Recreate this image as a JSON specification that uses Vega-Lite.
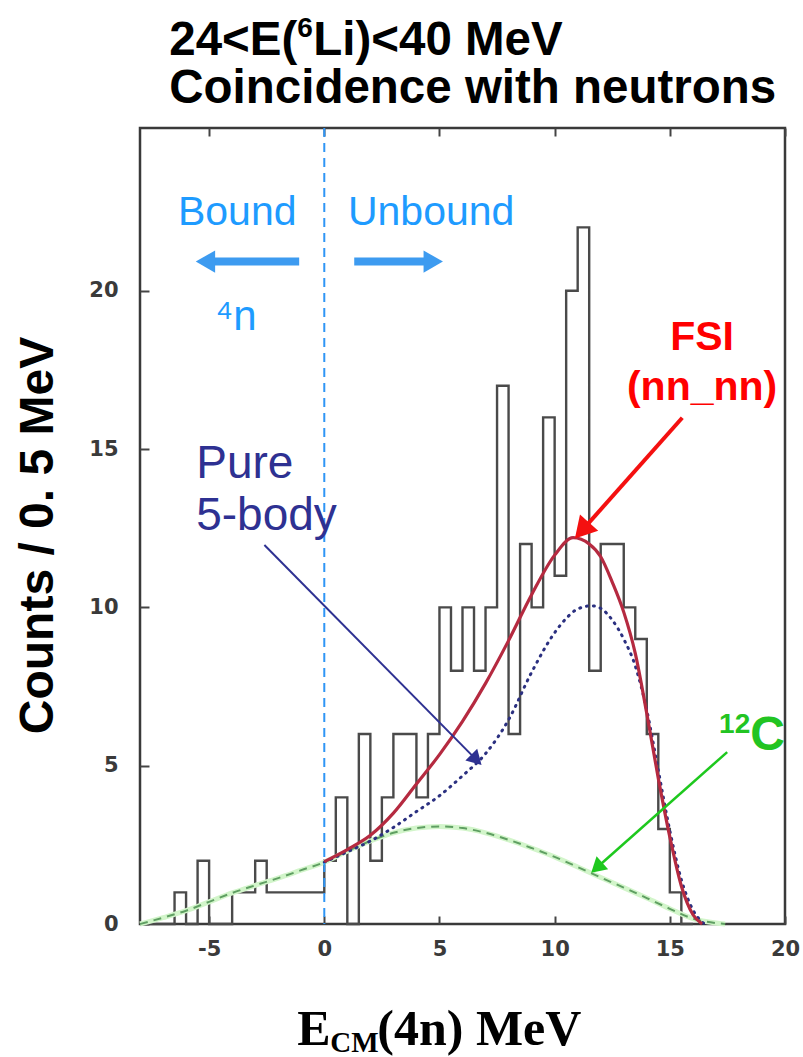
{
  "$schema": "https://vega.github.io/schema/vega-lite/v6.json",
  "width": 645,
  "height": 796,
  "autosize": {"type": "none"},
  "padding": {"left": 140, "top": 128, "right": 18, "bottom": 133},
  "background": "white",
  "config": {
    "view": {"stroke": "#3a3a3a", "strokeWidth": 2.5},
    "text": {"font": "Liberation Sans"}
  },
  "resolve": {"axis": {"x": "independent"}},
  "datasets": {
    "counts": [
      {"x": -8, "y": 0}, {"x": -7.5, "y": 0}, {"x": -7, "y": 0}, {"x": -6.5, "y": 1},
      {"x": -6, "y": 0}, {"x": -5.5, "y": 2}, {"x": -5, "y": 0}, {"x": -4.5, "y": 0},
      {"x": -4, "y": 1}, {"x": -3.5, "y": 1}, {"x": -3, "y": 2}, {"x": -2.5, "y": 1},
      {"x": -2, "y": 1}, {"x": -1.5, "y": 1}, {"x": -1, "y": 1}, {"x": -0.5, "y": 1},
      {"x": 0, "y": 2}, {"x": 0.5, "y": 4}, {"x": 1, "y": 0}, {"x": 1.5, "y": 6},
      {"x": 2, "y": 2}, {"x": 2.5, "y": 4}, {"x": 3, "y": 6}, {"x": 3.5, "y": 6},
      {"x": 4, "y": 4}, {"x": 4.5, "y": 6}, {"x": 5, "y": 10}, {"x": 5.5, "y": 8},
      {"x": 6, "y": 10}, {"x": 6.5, "y": 8}, {"x": 7, "y": 10}, {"x": 7.5, "y": 17},
      {"x": 8, "y": 6}, {"x": 8.5, "y": 12}, {"x": 9, "y": 10}, {"x": 9.5, "y": 16},
      {"x": 10, "y": 11}, {"x": 10.5, "y": 20}, {"x": 11, "y": 22}, {"x": 11.5, "y": 8},
      {"x": 12, "y": 12}, {"x": 12.5, "y": 12}, {"x": 13, "y": 10}, {"x": 13.5, "y": 9},
      {"x": 14, "y": 6}, {"x": 14.5, "y": 3}, {"x": 15, "y": 1}, {"x": 15.5, "y": 0},
      {"x": 16, "y": 0}
    ],
    "carbon": [
      {"x": -8, "y": 0}, {"x": -7, "y": 0.2}, {"x": -6, "y": 0.42}, {"x": -5, "y": 0.7},
      {"x": -4, "y": 0.98}, {"x": -3, "y": 1.22}, {"x": -2, "y": 1.45}, {"x": -1, "y": 1.7},
      {"x": 0, "y": 1.95}, {"x": 1, "y": 2.3}, {"x": 2, "y": 2.62}, {"x": 3, "y": 2.88},
      {"x": 4, "y": 3.03}, {"x": 5, "y": 3.08}, {"x": 6, "y": 3.03}, {"x": 7, "y": 2.88},
      {"x": 8, "y": 2.66}, {"x": 9, "y": 2.4}, {"x": 10, "y": 2.12}, {"x": 11, "y": 1.8},
      {"x": 12, "y": 1.47}, {"x": 13, "y": 1.15}, {"x": 14, "y": 0.82}, {"x": 15, "y": 0.48},
      {"x": 16, "y": 0.17}, {"x": 17, "y": 0.03}, {"x": 17.4, "y": 0}
    ],
    "fivebody": [
      {"x": 0, "y": 1.95}, {"x": 1, "y": 2.28}, {"x": 2, "y": 2.62}, {"x": 3, "y": 3.05},
      {"x": 4, "y": 3.55}, {"x": 5, "y": 4.05}, {"x": 6, "y": 4.68}, {"x": 7, "y": 5.38},
      {"x": 8, "y": 6.45}, {"x": 9, "y": 7.95}, {"x": 10, "y": 9.2}, {"x": 10.5, "y": 9.65},
      {"x": 11, "y": 9.95}, {"x": 11.6, "y": 10.05}, {"x": 12, "y": 9.97}, {"x": 12.5, "y": 9.6},
      {"x": 13, "y": 9.0}, {"x": 13.5, "y": 8.15}, {"x": 14, "y": 6.75}, {"x": 14.5, "y": 4.85},
      {"x": 15, "y": 2.95}, {"x": 15.5, "y": 1.4}, {"x": 16, "y": 0.45}, {"x": 16.5, "y": 0}
    ],
    "fsi": [
      {"x": 0, "y": 1.97}, {"x": 1, "y": 2.35}, {"x": 2, "y": 2.8}, {"x": 3, "y": 3.5},
      {"x": 4, "y": 4.42}, {"x": 5, "y": 5.35}, {"x": 6, "y": 6.4}, {"x": 7, "y": 7.6},
      {"x": 8, "y": 8.95}, {"x": 9, "y": 10.4}, {"x": 10, "y": 11.65}, {"x": 10.8, "y": 12.2},
      {"x": 11.5, "y": 12.0}, {"x": 12, "y": 11.6}, {"x": 12.5, "y": 10.8}, {"x": 13, "y": 9.85},
      {"x": 13.5, "y": 8.55}, {"x": 14, "y": 6.65}, {"x": 14.5, "y": 4.6}, {"x": 15, "y": 2.75},
      {"x": 15.5, "y": 1.2}, {"x": 16, "y": 0.3}, {"x": 16.4, "y": 0}
    ]
  },
  "layer": [
    {
      "data": {"name": "counts"},
      "mark": {"type": "line", "interpolate": "step-after", "color": "#4a4a4a", "strokeWidth": 2.4},
      "encoding": {
        "x": {
          "field": "x", "type": "quantitative",
          "scale": {"domain": [-8, 20], "nice": false, "zero": false},
          "axis": {
            "orient": "bottom", "values": [-5, 0, 5, 10, 15, 20], "labelExpr": "'' + datum.value",
            "title": null, "domain": false, "grid": false, "labelFlush": false,
            "tickSize": -8, "tickWidth": 2, "tickColor": "#444444",
            "labelPadding": 22, "labelFont": "DejaVu Sans", "labelFontWeight": "bold",
            "labelFontSize": 21, "labelColor": "#3a3a3a"
          }
        },
        "y": {
          "field": "y", "type": "quantitative",
          "scale": {"domain": [0, 25.14], "nice": false, "zero": false},
          "axis": {
            "orient": "left", "values": [0, 5, 10, 15, 20],
            "title": "Counts / 0. 5 MeV", "titleX": -102, "titleY": 407, "titleAngle": 270,
            "titleAlign": "center", "titleBaseline": "middle", "titleFont": "Liberation Sans",
            "titleFontWeight": "bold", "titleFontSize": 48, "titleColor": "#000000",
            "domain": false, "grid": false, "tickSize": -9, "tickWidth": 2, "tickColor": "#444444",
            "labelPadding": 31, "labelFont": "DejaVu Sans", "labelFontWeight": "bold",
            "labelFontSize": 21, "labelColor": "#3a3a3a"
          }
        }
      }
    },
    {
      "data": {"name": "carbon"},
      "mark": {"type": "line", "interpolate": "monotone", "color": "#d2f5ca", "strokeWidth": 5},
      "encoding": {
        "x": {"field": "x", "type": "quantitative", "scale": {"domain": [-8, 20], "nice": false, "zero": false}, "axis": null},
        "y": {"field": "y", "type": "quantitative", "scale": {"domain": [0, 25.14], "nice": false, "zero": false}}
      }
    },
    {
      "data": {"name": "carbon"},
      "mark": {"type": "line", "interpolate": "monotone", "color": "#5f9f62", "strokeWidth": 2, "strokeDash": [8, 6]},
      "encoding": {
        "x": {"field": "x", "type": "quantitative", "axis": null},
        "y": {"field": "y", "type": "quantitative"}
      }
    },
    {
      "data": {"name": "fivebody"},
      "mark": {"type": "line", "interpolate": "monotone", "color": "#2b3080", "strokeWidth": 3, "strokeDash": [1, 6], "strokeCap": "round"},
      "encoding": {
        "x": {"field": "x", "type": "quantitative", "axis": null},
        "y": {"field": "y", "type": "quantitative"}
      }
    },
    {
      "data": {"name": "fsi"},
      "mark": {"type": "line", "interpolate": "monotone", "color": "#b52a40", "strokeWidth": 3.2},
      "encoding": {
        "x": {"field": "x", "type": "quantitative", "axis": null},
        "y": {"field": "y", "type": "quantitative"}
      }
    },
    {
      "data": {"values": [{"x": 0}]},
      "mark": {"type": "rule", "color": "#2f95f5", "strokeWidth": 2, "strokeDash": [9, 6]},
      "encoding": {
        "x": {
          "field": "x", "type": "quantitative",
          "axis": {
            "orient": "top", "values": [-5, 0, 5, 10, 15, 20], "labels": false, "title": null,
            "domain": false, "grid": false, "tickSize": -8, "tickWidth": 2, "tickColor": "#444444"
          }
        }
      }
    },
    {
      "data": {"values": [{"x": -1.09, "x2": -5.16, "y": 20.92}, {"x": 1.3, "x2": 4.73, "y": 20.92}]},
      "mark": {"type": "rule", "color": "#3d9bf0", "strokeWidth": 8},
      "encoding": {
        "x": {"field": "x", "type": "quantitative", "axis": null},
        "x2": {"field": "x2"},
        "y": {"field": "y", "type": "quantitative"}
      }
    },
    {
      "data": {"values": [{"x": -5.16, "y": 20.92}]},
      "mark": {"type": "point", "shape": "triangle-left", "filled": true, "color": "#3d9bf0", "size": 500, "opacity": 1},
      "encoding": {
        "x": {"field": "x", "type": "quantitative", "axis": null},
        "y": {"field": "y", "type": "quantitative"}
      }
    },
    {
      "data": {"values": [{"x": 4.73, "y": 20.92}]},
      "mark": {"type": "point", "shape": "triangle-right", "filled": true, "color": "#3d9bf0", "size": 500, "opacity": 1},
      "encoding": {
        "x": {"field": "x", "type": "quantitative", "axis": null},
        "y": {"field": "y", "type": "quantitative"}
      }
    },
    {
      "data": {"values": [{"x": -2.6, "y": 11.97, "x2": 6.53, "y2": 5.24}]},
      "mark": {"type": "rule", "color": "#2e3192", "strokeWidth": 2},
      "encoding": {
        "x": {"field": "x", "type": "quantitative", "axis": null},
        "y": {"field": "y", "type": "quantitative"},
        "x2": {"field": "x2"},
        "y2": {"field": "y2"}
      }
    },
    {
      "data": {"values": [{"x": 6.53, "y": 5.24}]},
      "mark": {"type": "point", "shape": "triangle", "filled": true, "color": "#2e3192", "size": 280, "angle": 135, "opacity": 1},
      "encoding": {
        "x": {"field": "x", "type": "quantitative", "axis": null},
        "y": {"field": "y", "type": "quantitative"}
      }
    },
    {
      "data": {"values": [{"x": 15.54, "y": 15.99, "x2": 11.29, "y2": 12.51}]},
      "mark": {"type": "rule", "color": "#f41010", "strokeWidth": 4},
      "encoding": {
        "x": {"field": "x", "type": "quantitative", "axis": null},
        "y": {"field": "y", "type": "quantitative"},
        "x2": {"field": "x2"},
        "y2": {"field": "y2"}
      }
    },
    {
      "data": {"values": [{"x": 11.29, "y": 12.51}]},
      "mark": {"type": "point", "shape": "triangle", "filled": true, "color": "#f41010", "size": 600, "angle": 222, "opacity": 1},
      "encoding": {
        "x": {"field": "x", "type": "quantitative", "axis": null},
        "y": {"field": "y", "type": "quantitative"}
      }
    },
    {
      "data": {"values": [{"x": 17.49, "y": 5.43, "x2": 11.91, "y2": 1.83}]},
      "mark": {"type": "rule", "color": "#1ec81e", "strokeWidth": 2.5},
      "encoding": {
        "x": {"field": "x", "type": "quantitative", "axis": null},
        "y": {"field": "y", "type": "quantitative"},
        "x2": {"field": "x2"},
        "y2": {"field": "y2"}
      }
    },
    {
      "data": {"values": [{"x": 11.91, "y": 1.83}]},
      "mark": {"type": "point", "shape": "triangle", "filled": true, "color": "#1ec81e", "size": 300, "angle": 228, "opacity": 1},
      "encoding": {
        "x": {"field": "x", "type": "quantitative", "axis": null},
        "y": {"field": "y", "type": "quantitative"}
      }
    },
    {
      "data": {"values": [
        {"x": -3.78, "y": 22.09, "text": "Bound"},
        {"x": 4.64, "y": 22.09, "text": "Unbound"}
      ]},
      "mark": {"type": "text", "align": "center", "baseline": "alphabetic", "fontSize": 41, "color": "#1e9bff"},
      "encoding": {
        "x": {"field": "x", "type": "quantitative", "axis": null},
        "y": {"field": "y", "type": "quantitative"},
        "text": {"field": "text"}
      }
    },
    {
      "data": {"values": [{"x": -4.73, "y": 18.77, "text": "⁴n"}]},
      "mark": {"type": "text", "align": "left", "baseline": "alphabetic", "fontSize": 42, "color": "#1e9bff"},
      "encoding": {
        "x": {"field": "x", "type": "quantitative", "axis": null},
        "y": {"field": "y", "type": "quantitative"},
        "text": {"field": "text"}
      }
    },
    {
      "data": {"values": [
        {"x": -5.56, "y": 14.09, "text": "Pure"},
        {"x": -5.56, "y": 12.45, "text": "5-body"}
      ]},
      "mark": {"type": "text", "align": "left", "baseline": "alphabetic", "fontSize": 46, "color": "#2e3192"},
      "encoding": {
        "x": {"field": "x", "type": "quantitative", "axis": null},
        "y": {"field": "y", "type": "quantitative"},
        "text": {"field": "text"}
      }
    },
    {
      "data": {"values": [
        {"x": 16.4, "y": 18.14, "text": "FSI"},
        {"x": 16.4, "y": 16.56, "text": "(nn_nn)"}
      ]},
      "mark": {"type": "text", "align": "center", "baseline": "alphabetic", "fontSize": 41, "fontWeight": "bold", "color": "#ff0000"},
      "encoding": {
        "x": {"field": "x", "type": "quantitative", "axis": null},
        "y": {"field": "y", "type": "quantitative"},
        "text": {"field": "text"}
      }
    },
    {
      "data": {"values": [{"x": 17.14, "y": 6.03, "text": "12"}]},
      "mark": {"type": "text", "align": "left", "baseline": "alphabetic", "fontSize": 28, "fontWeight": "bold", "color": "#22c422"},
      "encoding": {
        "x": {"field": "x", "type": "quantitative", "axis": null},
        "y": {"field": "y", "type": "quantitative"},
        "text": {"field": "text"}
      }
    },
    {
      "data": {"values": [{"x": 18.49, "y": 5.5, "text": "C"}]},
      "mark": {"type": "text", "align": "left", "baseline": "alphabetic", "fontSize": 48, "fontWeight": "bold", "color": "#22c422"},
      "encoding": {
        "x": {"field": "x", "type": "quantitative", "axis": null},
        "y": {"field": "y", "type": "quantitative"},
        "text": {"field": "text"}
      }
    },
    {
      "data": {"values": [
        {"x": -6.73, "y": 27.46, "text": "24<E("},
        {"x": -0.48, "y": 27.46, "text": "Li)<40 MeV"},
        {"x": -6.73, "y": 25.94, "text": "Coincidence with neutrons"}
      ]},
      "mark": {"type": "text", "align": "left", "baseline": "alphabetic", "fontSize": 47.5, "fontWeight": "bold", "color": "#000000"},
      "encoding": {
        "x": {"field": "x", "type": "quantitative", "axis": null},
        "y": {"field": "y", "type": "quantitative"},
        "text": {"field": "text"}
      }
    },
    {
      "data": {"values": [{"x": -1.17, "y": 28.0, "text": "6"}]},
      "mark": {"type": "text", "align": "left", "baseline": "alphabetic", "fontSize": 28, "fontWeight": "bold", "color": "#000000"},
      "encoding": {
        "x": {"field": "x", "type": "quantitative", "axis": null},
        "y": {"field": "y", "type": "quantitative"},
        "text": {"field": "text"}
      }
    },
    {
      "data": {"values": [
        {"x": -1.17, "y": -3.82, "text": "E"},
        {"x": 2.3, "y": -3.82, "text": "(4n) MeV"}
      ]},
      "mark": {"type": "text", "align": "left", "baseline": "alphabetic", "font": "Liberation Serif", "fontSize": 50, "fontWeight": "bold", "color": "#000000"},
      "encoding": {
        "x": {"field": "x", "type": "quantitative", "axis": null},
        "y": {"field": "y", "type": "quantitative"},
        "text": {"field": "text"}
      }
    },
    {
      "data": {"values": [{"x": 0.26, "y": -4.04, "text": "CM"}]},
      "mark": {"type": "text", "align": "left", "baseline": "alphabetic", "font": "Liberation Serif", "fontSize": 29, "fontWeight": "bold", "color": "#000000"},
      "encoding": {
        "x": {"field": "x", "type": "quantitative", "axis": null},
        "y": {"field": "y", "type": "quantitative"},
        "text": {"field": "text"}
      }
    }
  ]
}
